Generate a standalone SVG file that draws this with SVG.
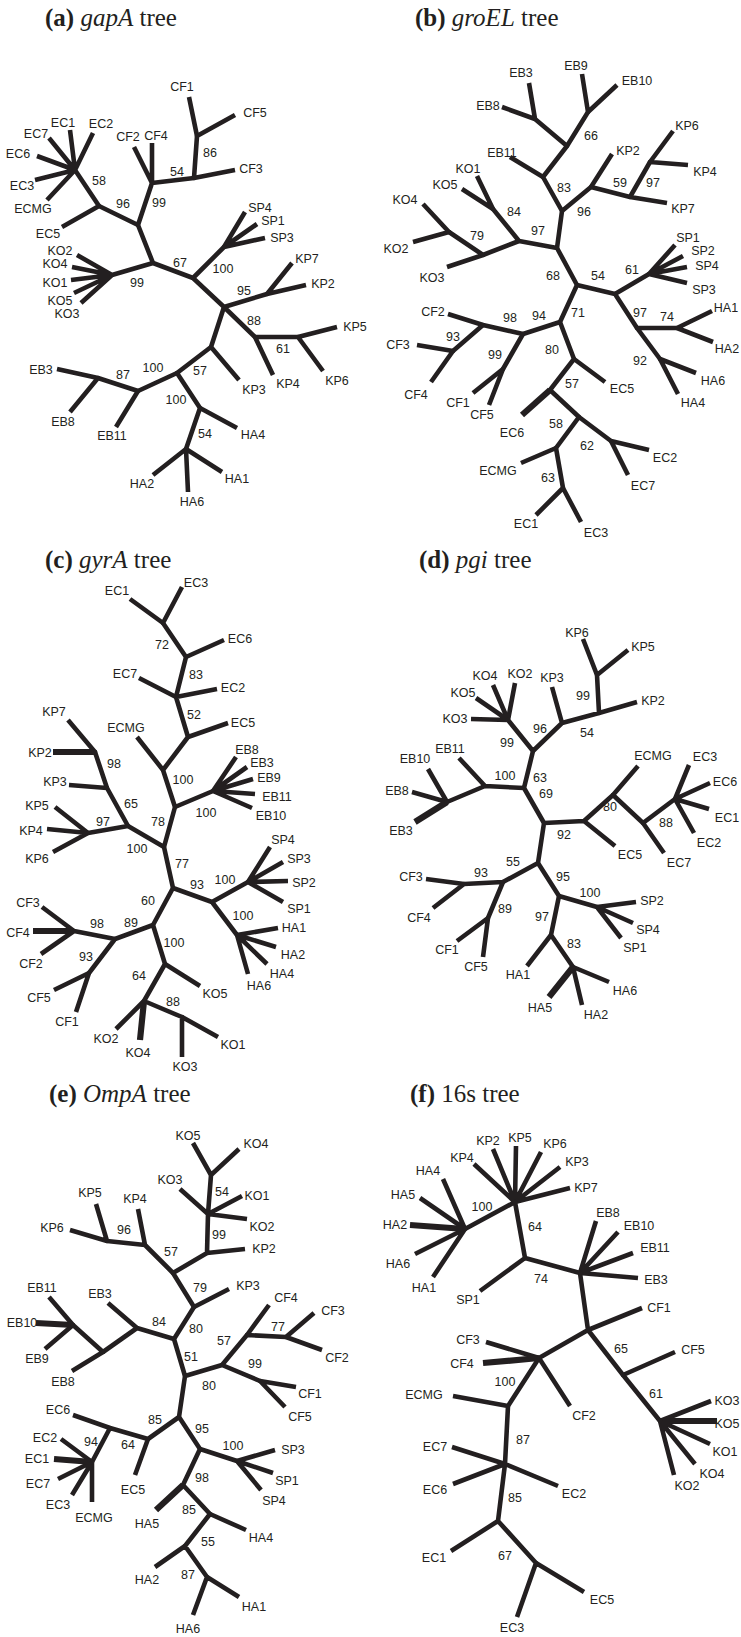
<svg xmlns="http://www.w3.org/2000/svg" width="741" height="1637" viewBox="0 0 741 1637">
<style>
.br{fill:none;stroke:#231f20;stroke-width:4.6;stroke-linejoin:round;stroke-linecap:butt}
.tk{fill:none;stroke:#231f20;stroke-width:6.2;stroke-linecap:butt}
.jn{fill:none;stroke:#231f20;stroke-width:4.6;stroke-linecap:round}
text{font-family:"Liberation Sans",Arial,sans-serif;font-size:12.5px;fill:#231f20;text-anchor:middle}
text.ttl{font-family:"Liberation Serif","Times New Roman",serif;font-size:25px;text-anchor:start}
</style>
<rect width="741" height="1637" fill="#fff"/>

<g id="tree-a">
<text class="ttl" x="45" y="26"><tspan font-weight="bold">(a)</tspan> <tspan font-style="italic">gapA</tspan> tree</text>
<g id="a-connectors">
<path class="br" d="M189 97L197 136L235 115M197 136L194 178L235 170M194 178L152 183L134 147M152 143L152 183L138 225M75 170L99 206L138 225L153 263M62 227L99 206M70 130L75 170M93 133L75 170M49 138L75 170M37 156L75 170M35 180L75 170M47 200L75 170M112 275L153 263L193 278L224 247M245 212L224 247M257 224L224 247M265 238L224 247M193 278L224 307L267 294L292 263M267 294L306 285M224 307L255 337L298 337L337 327M298 337L323 371M255 337L273 375M224 307L211 347L239 380M211 347L177 373L138 391L98 378L57 369M98 378L70 412M138 391L116 427M177 373L200 408L237 428M200 408L186 449L153 475M186 449L188 492M186 449L222 472M77 255L112 275M72 267L112 275M71 280L112 275M74 293L112 275M81 303L112 275"/>
<path class="jn" d="M197 136h0M194 178h0M152 183h0M138 225h0M75 170h0M99 206h0M153 263h0M112 275h0M193 278h0M224 247h0M224 307h0M267 294h0M255 337h0M298 337h0M211 347h0M177 373h0M138 391h0M98 378h0M200 408h0M186 449h0"/>
</g>
<g id="a-labels">
<text x="182" y="90.5">CF1</text><text x="255" y="116.5">CF5</text><text x="251" y="172.5">CF3</text>
<text x="128" y="140.5">CF2</text><text x="156" y="139.5">CF4</text>
<text x="63" y="126.5">EC1</text><text x="101" y="127.5">EC2</text><text x="36" y="137.5">EC7</text>
<text x="18" y="157.5">EC6</text><text x="22" y="189.5">EC3</text><text x="33" y="212.5">ECMG</text><text x="48" y="237.5">EC5</text>
<text x="60" y="254.5">KO2</text><text x="55" y="267.5">KO4</text><text x="55" y="286.5">KO1</text><text x="60" y="304.5">KO5</text><text x="67" y="317.5">KO3</text>
<text x="260" y="211.5">SP4</text><text x="273" y="224.5">SP1</text><text x="282" y="241.5">SP3</text>
<text x="307" y="262.5">KP7</text><text x="323" y="287.5">KP2</text><text x="355" y="330.5">KP5</text>
<text x="337" y="384.5">KP6</text><text x="288" y="387.5">KP4</text><text x="254" y="393.5">KP3</text>
<text x="41" y="373.5">EB3</text><text x="63" y="425.5">EB8</text><text x="112" y="439.5">EB11</text>
<text x="253" y="438.5">HA4</text><text x="142" y="487.5">HA2</text><text x="192" y="505.5">HA6</text><text x="237" y="482.5">HA1</text>
<text x="210" y="156.5">86</text><text x="177" y="175.5">54</text><text x="99" y="184.5">58</text><text x="123" y="207.5">96</text>
<text x="159" y="206.5">99</text><text x="180" y="266.5">67</text><text x="137" y="286.5">99</text><text x="223" y="272.5">100</text>
<text x="244" y="294.5">95</text><text x="254" y="324.5">88</text><text x="283" y="352.5">61</text><text x="200" y="374.5">57</text>
<text x="153" y="371.5">100</text><text x="123" y="378.5">87</text><text x="176" y="403.5">100</text><text x="205" y="437.5">54</text>
</g>
</g>

<g id="tree-b">
<text class="ttl" x="415" y="26"><tspan font-weight="bold">(b)</tspan> <tspan font-style="italic">groEL</tspan> tree</text>
<g id="b-connectors">
<path class="br" d="M529 83L535 119L567 146M502 107L535 119M582 74L588 112L567 146M617 85L588 112M567 146L543 177L562 211M510 157L543 177M562 211L591 187L612 154M591 187L630 197L667 203M630 197L650 162L673 131M650 162L688 165M562 211L557 248L519 241L493 209L477 176M493 209L462 189M519 241L483 255L449 232L423 204M449 232L413 242M483 255L447 267M557 248L577 285L615 294L649 274M675 245L649 274M683 256L649 274M687 267L649 274M687 283L649 274M615 294L637 328L677 328L712 311M677 328L713 342M637 328L660 359L696 373M660 359L678 394M577 285L560 322L523 334L483 325L448 314M483 325L453 351L417 345M453 351L431 382M523 334L503 369L473 393M503 369L489 405M560 322L574 359L605 382M574 359L550 390L579 417L611 441L649 450M611 441L628 475M579 417L556 448L521 463M556 448L563 488L536 515M563 488L581 522"/>
<path class="tk" d="M550 390L522 415"/>
<path class="jn" d="M535 119h0M588 112h0M567 146h0M543 177h0M562 211h0M591 187h0M630 197h0M650 162h0M557 248h0M519 241h0M493 209h0M483 255h0M449 232h0M577 285h0M615 294h0M649 274h0M637 328h0M677 328h0M660 359h0M560 322h0M523 334h0M483 325h0M453 351h0M503 369h0M574 359h0M550 390h0M579 417h0M611 441h0M556 448h0M563 488h0"/>
</g>
<g id="b-labels">
<text x="521" y="76.5">EB3</text><text x="488" y="109.5">EB8</text><text x="576" y="69.5">EB9</text><text x="637" y="84.5">EB10</text>
<text x="591" y="139.5">66</text><text x="502" y="156.5">EB11</text><text x="564" y="191.5">83</text><text x="628" y="154.5">KP2</text>
<text x="620" y="186.5">59</text><text x="584" y="215.5">96</text><text x="687" y="129.5">KP6</text><text x="705" y="175.5">KP4</text>
<text x="653" y="186.5">97</text><text x="683" y="212.5">KP7</text><text x="468" y="172.5">KO1</text><text x="445" y="188.5">KO5</text>
<text x="514" y="215.5">84</text><text x="405" y="203.5">KO4</text><text x="477" y="239.5">79</text><text x="538" y="234.5">97</text>
<text x="396" y="252.5">KO2</text><text x="432" y="281.5">KO3</text><text x="553" y="279.5">68</text><text x="598" y="279.5">54</text>
<text x="632" y="273.5">61</text><text x="688" y="241.5">SP1</text><text x="703" y="254.5">SP2</text><text x="707" y="269.5">SP4</text>
<text x="704" y="293.5">SP3</text><text x="726" y="311.5">HA1</text><text x="640" y="316.5">97</text><text x="667" y="320.5">74</text>
<text x="727" y="352.5">HA2</text><text x="640" y="364.5">92</text><text x="713" y="384.5">HA6</text><text x="693" y="406.5">HA4</text>
<text x="578" y="316.5">71</text><text x="539" y="319.5">94</text><text x="510" y="321.5">98</text><text x="433" y="315.5">CF2</text>
<text x="453" y="340.5">93</text><text x="398" y="348.5">CF3</text><text x="416" y="398.5">CF4</text><text x="495" y="358.5">99</text>
<text x="458" y="406.5">CF1</text><text x="482" y="418.5">CF5</text><text x="552" y="353.5">80</text><text x="622" y="392.5">EC5</text>
<text x="572" y="387.5">57</text><text x="512" y="436.5">EC6</text><text x="556" y="427.5">58</text><text x="587" y="449.5">62</text>
<text x="665" y="461.5">EC2</text><text x="643" y="489.5">EC7</text><text x="498" y="474.5">ECMG</text><text x="548" y="481.5">63</text>
<text x="526" y="527.5">EC1</text><text x="596" y="536.5">EC3</text>
</g>
</g>

<g id="tree-c">
<text class="ttl" x="45" y="568"><tspan font-weight="bold">(c)</tspan> <tspan font-style="italic">gyrA</tspan> tree</text>
<g id="c-connectors">
<path class="br" d="M130 599L163 623L186 657L224 640M182 587L163 623M186 657L176 697L139 678M176 697L217 689M176 697L188 737L228 723M188 737L163 770L137 737M163 770L175 807L213 791M236 757L213 791M247 767L213 791M253 779L213 791M255 794L213 791M252 808L213 791M175 807L164 847L128 826L107 788L95 752L68 720M107 788L69 785M128 826L88 833L55 807M88 833L47 829M88 833L53 852M164 847L173 888L212 902L248 882M270 847L248 882M283 862L248 882M288 881L248 882M283 902L248 882M212 902L237 935M278 928L237 935M276 947L237 935M267 964L237 935M248 974L237 935M173 888L153 925L115 939L74 931L42 907M74 931L41 954M115 939L89 973L54 990M89 973L76 1012M153 925L165 964L200 986M165 964L144 1001L116 1029M144 1001L182 1017L218 1037M182 1017L182 1057"/>
<path class="tk" d="M95 752L53 752M74 931L33 931M144 1001L140 1040"/>
<path class="jn" d="M163 623h0M186 657h0M176 697h0M188 737h0M163 770h0M175 807h0M213 791h0M164 847h0M128 826h0M107 788h0M95 752h0M88 833h0M173 888h0M212 902h0M248 882h0M237 935h0M153 925h0M115 939h0M74 931h0M89 973h0M165 964h0M144 1001h0M182 1017h0"/>
</g>
<g id="c-labels">
<text x="117" y="594.5">EC1</text><text x="196" y="586.5">EC3</text><text x="162" y="648.5">72</text><text x="240" y="642.5">EC6</text>
<text x="196" y="678.5">83</text><text x="125" y="677.5">EC7</text><text x="233" y="691.5">EC2</text><text x="194" y="718.5">52</text>
<text x="243" y="726.5">EC5</text><text x="126" y="731.5">ECMG</text><text x="183" y="783.5">100</text><text x="206" y="816.5">100</text>
<text x="247" y="753.5">EB8</text><text x="262" y="766.5">EB3</text><text x="269" y="781.5">EB9</text><text x="277" y="800.5">EB11</text>
<text x="271" y="819.5">EB10</text><text x="158" y="825.5">78</text><text x="137" y="852.5">100</text><text x="131" y="807.5">65</text>
<text x="54" y="715.5">KP7</text><text x="40" y="756.5">KP2</text><text x="114" y="767.5">98</text><text x="55" y="785.5">KP3</text>
<text x="103" y="825.5">97</text><text x="37" y="809.5">KP5</text><text x="31" y="834.5">KP4</text><text x="37" y="862.5">KP6</text>
<text x="182" y="867.5">77</text><text x="197" y="888.5">93</text><text x="225" y="883.5">100</text><text x="283" y="843.5">SP4</text>
<text x="299" y="862.5">SP3</text><text x="304" y="886.5">SP2</text><text x="299" y="912.5">SP1</text><text x="243" y="919.5">100</text>
<text x="294" y="931.5">HA1</text><text x="293" y="958.5">HA2</text><text x="282" y="977.5">HA4</text><text x="259" y="989.5">HA6</text>
<text x="148" y="904.5">60</text><text x="131" y="926.5">89</text><text x="97" y="927.5">98</text><text x="28" y="906.5">CF3</text>
<text x="18" y="936.5">CF4</text><text x="31" y="967.5">CF2</text><text x="86" y="960.5">93</text><text x="39" y="1001.5">CF5</text>
<text x="67" y="1025.5">CF1</text><text x="174" y="946.5">100</text><text x="215" y="997.5">KO5</text><text x="139" y="979.5">64</text>
<text x="106" y="1042.5">KO2</text><text x="138" y="1056.5">KO4</text><text x="173" y="1005.5">88</text><text x="233" y="1048.5">KO1</text>
<text x="185" y="1070.5">KO3</text>
</g>
</g>

<g id="tree-d">
<text class="ttl" x="419" y="568"><tspan font-weight="bold">(d)</tspan> <tspan font-style="italic">pgi</tspan> tree</text>
<g id="d-connectors">
<path class="br" d="M583 639L597 675L628 650M597 675L599 713L637 702M599 713L562 723L552 687M562 723L533 751L508 720M493 685L508 720M515 683L508 720M476 698L508 720M471 719L508 720M533 751L524 788L485 786L459 758M485 786L447 802L428 769M447 802L412 792M524 788L544 823L584 821L615 846M584 821L613 795L638 766M613 795L643 823L675 799L689 765M675 799L710 783M675 799L709 809M675 799L694 833M643 823L664 853M544 823L538 863L503 882L464 884L426 879M464 884L433 908M503 882L488 918L457 941M488 918L483 957M538 863L559 896L597 907L636 902M597 907L633 923M597 907L621 938M559 896L551 935L527 966M551 935L573 967L609 982M573 967L582 1005"/>
<path class="tk" d="M573 967L549 997M447 802L415 822"/>
<path class="jn" d="M597 675h0M599 713h0M562 723h0M533 751h0M508 720h0M524 788h0M485 786h0M447 802h0M544 823h0M584 821h0M613 795h0M643 823h0M675 799h0M538 863h0M503 882h0M464 884h0M488 918h0M559 896h0M597 907h0M551 935h0M573 967h0"/>
</g>
<g id="d-labels">
<text x="577" y="636.5">KP6</text><text x="643" y="650.5">KP5</text><text x="583" y="699.5">99</text><text x="653" y="704.5">KP2</text>
<text x="587" y="736.5">54</text><text x="552" y="681.5">KP3</text><text x="540" y="732.5">96</text><text x="507" y="746.5">99</text>
<text x="485" y="679.5">KO4</text><text x="520" y="677.5">KO2</text><text x="463" y="696.5">KO5</text><text x="455" y="722.5">KO3</text>
<text x="540" y="781.5">63</text><text x="505" y="779.5">100</text><text x="450" y="752.5">EB11</text><text x="415" y="762.5">EB10</text>
<text x="397" y="794.5">EB8</text><text x="401" y="834.5">EB3</text><text x="546" y="797.5">69</text><text x="564" y="838.5">92</text>
<text x="630" y="858.5">EC5</text><text x="610" y="810.5">80</text><text x="653" y="759.5">ECMG</text><text x="666" y="826.5">88</text>
<text x="705" y="760.5">EC3</text><text x="725" y="785.5">EC6</text><text x="727" y="821.5">EC1</text><text x="709" y="846.5">EC2</text>
<text x="679" y="866.5">EC7</text><text x="513" y="865.5">55</text><text x="481" y="876.5">93</text><text x="411" y="880.5">CF3</text>
<text x="419" y="921.5">CF4</text><text x="505" y="912.5">89</text><text x="447" y="953.5">CF1</text><text x="476" y="970.5">CF5</text>
<text x="563" y="880.5">95</text><text x="590" y="896.5">100</text><text x="652" y="904.5">SP2</text><text x="648" y="933.5">SP4</text>
<text x="635" y="951.5">SP1</text><text x="542" y="920.5">97</text><text x="518" y="978.5">HA1</text><text x="574" y="947.5">83</text>
<text x="625" y="994.5">HA6</text><text x="540" y="1011.5">HA5</text><text x="596" y="1018.5">HA2</text>
</g>
</g>

<g id="tree-e">
<text class="ttl" x="49" y="1102"><tspan font-weight="bold">(e)</tspan> <tspan font-style="italic">OmpA</tspan> tree</text>
<g id="e-connectors">
<path class="br" d="M193 1143L211 1175L239 1149M211 1175L208 1214L207 1253L245 1249M180 1189L208 1214M242 1196L208 1214M247 1219L208 1214M207 1253L173 1273L145 1245L138 1209M145 1245L107 1241L96 1204M107 1241L70 1230M173 1273L194 1307L229 1289M194 1307L174 1339L137 1328L108 1303M137 1328L103 1352L73 1325L49 1297M73 1325L45 1349M103 1352L72 1371M174 1339L185 1376L222 1365L247 1335L269 1305M247 1335L286 1337L314 1313M286 1337L322 1350M222 1365L260 1381L296 1387M260 1381L285 1407M185 1376L179 1417L148 1439L135 1475M148 1439L110 1428L73 1415M110 1428L92 1462M61 1439L92 1462M58 1479L92 1462M72 1495L92 1462M92 1502L92 1462M179 1417L200 1449L237 1461L275 1450M273 1473L237 1461M261 1490L237 1461M200 1449L183 1485L210 1514L246 1530M210 1514L185 1546L155 1567M185 1546L207 1577L239 1597M207 1577L193 1615"/>
<path class="tk" d="M73 1325L36 1323M54 1459L92 1462M183 1485L156 1510"/>
<path class="jn" d="M211 1175h0M208 1214h0M207 1253h0M173 1273h0M145 1245h0M107 1241h0M194 1307h0M174 1339h0M137 1328h0M103 1352h0M73 1325h0M185 1376h0M222 1365h0M247 1335h0M286 1337h0M260 1381h0M179 1417h0M148 1439h0M110 1428h0M92 1462h0M200 1449h0M237 1461h0M183 1485h0M210 1514h0M185 1546h0M207 1577h0"/>
</g>
<g id="e-labels">
<text x="188" y="1139.5">KO5</text><text x="256" y="1147.5">KO4</text><text x="222" y="1195.5">54</text><text x="170" y="1183.5">KO3</text>
<text x="257" y="1199.5">KO1</text><text x="262" y="1230.5">KO2</text><text x="219" y="1238.5">99</text><text x="264" y="1252.5">KP2</text>
<text x="171" y="1255.5">57</text><text x="135" y="1202.5">KP4</text><text x="124" y="1233.5">96</text><text x="90" y="1196.5">KP5</text>
<text x="52" y="1231.5">KP6</text><text x="200" y="1291.5">79</text><text x="248" y="1289.5">KP3</text><text x="196" y="1332.5">80</text>
<text x="159" y="1325.5">84</text><text x="100" y="1297.5">EB3</text><text x="42" y="1291.5">EB11</text><text x="22" y="1326.5">EB10</text>
<text x="37" y="1362.5">EB9</text><text x="63" y="1385.5">EB8</text><text x="191" y="1360.5">51</text><text x="209" y="1389.5">80</text>
<text x="224" y="1344.5">57</text><text x="286" y="1301.5">CF4</text><text x="278" y="1330.5">77</text><text x="333" y="1314.5">CF3</text>
<text x="337" y="1361.5">CF2</text><text x="255" y="1367.5">99</text><text x="310" y="1397.5">CF1</text><text x="300" y="1420.5">CF5</text>
<text x="155" y="1423.5">85</text><text x="128" y="1448.5">64</text><text x="133" y="1493.5">EC5</text><text x="58" y="1413.5">EC6</text>
<text x="91" y="1445.5">94</text><text x="45" y="1441.5">EC2</text><text x="37" y="1462.5">EC1</text><text x="38" y="1487.5">EC7</text>
<text x="58" y="1508.5">EC3</text><text x="94" y="1521.5">ECMG</text><text x="202" y="1432.5">95</text><text x="233" y="1449.5">100</text>
<text x="293" y="1453.5">SP3</text><text x="287" y="1484.5">SP1</text><text x="274" y="1504.5">SP4</text><text x="202" y="1481.5">98</text>
<text x="147" y="1527.5">HA5</text><text x="189" y="1513.5">85</text><text x="261" y="1541.5">HA4</text><text x="208" y="1545.5">55</text>
<text x="147" y="1583.5">HA2</text><text x="188" y="1578.5">87</text><text x="254" y="1610.5">HA1</text><text x="188" y="1632.5">HA6</text>
</g>
</g>

<g id="tree-f">
<text class="ttl" x="410" y="1102"><tspan font-weight="bold">(f)</tspan> 16s tree</text>
<g id="f-connectors">
<path class="br" d="M493 1149L515 1202M516 1146L515 1202M541 1152L515 1202M560 1167L515 1202M570 1188L515 1202M474 1164L515 1202M515 1202L465 1229L443 1179M420 1198L465 1229M415 1254L465 1229M433 1277L465 1229M515 1202L525 1258L480 1291M525 1258L580 1273L596 1221M618 1232L580 1273M633 1253L580 1273M638 1278L580 1273M580 1273L588 1330L642 1308M588 1330L623 1375L675 1352M623 1375L660 1421L711 1401M710 1444L660 1421M695 1464L660 1421M674 1475L660 1421M588 1330L539 1358L486 1342M539 1358L570 1406M539 1358L508 1406L453 1396M508 1406L505 1464L452 1447M505 1464L453 1484M505 1464L558 1486M505 1464L498 1521L451 1551M498 1521L536 1563L584 1592M536 1563L517 1617"/>
<path class="tk" d="M410 1225L465 1229M717 1421L660 1421M539 1358L483 1363"/>
<path class="jn" d="M515 1202h0M465 1229h0M525 1258h0M580 1273h0M588 1330h0M623 1375h0M660 1421h0M539 1358h0M508 1406h0M505 1464h0M498 1521h0M536 1563h0"/>
</g>
<g id="f-labels">
<text x="488" y="1144.5">KP2</text><text x="520" y="1141.5">KP5</text><text x="555" y="1147.5">KP6</text><text x="577" y="1165.5">KP3</text>
<text x="586" y="1191.5">KP7</text><text x="462" y="1161.5">KP4</text><text x="482" y="1210.5">100</text><text x="428" y="1174.5">HA4</text>
<text x="403" y="1198.5">HA5</text><text x="395" y="1228.5">HA2</text><text x="398" y="1267.5">HA6</text><text x="424" y="1291.5">HA1</text>
<text x="535" y="1230.5">64</text><text x="468" y="1303.5">SP1</text><text x="541" y="1282.5">74</text><text x="608" y="1216.5">EB8</text>
<text x="639" y="1229.5">EB10</text><text x="655" y="1251.5">EB11</text><text x="656" y="1283.5">EB3</text><text x="659" y="1311.5">CF1</text>
<text x="621" y="1352.5">65</text><text x="693" y="1353.5">CF5</text><text x="656" y="1397.5">61</text><text x="727" y="1404.5">KO3</text>
<text x="727" y="1427.5">KO5</text><text x="725" y="1455.5">KO1</text><text x="712" y="1477.5">KO4</text><text x="687" y="1489.5">KO2</text>
<text x="468" y="1343.5">CF3</text><text x="462" y="1367.5">CF4</text><text x="584" y="1419.5">CF2</text><text x="505" y="1385.5">100</text>
<text x="424" y="1398.5">ECMG</text><text x="523" y="1443.5">87</text><text x="435" y="1450.5">EC7</text><text x="435" y="1493.5">EC6</text>
<text x="574" y="1497.5">EC2</text><text x="515" y="1501.5">85</text><text x="434" y="1561.5">EC1</text><text x="505" y="1559.5">67</text>
<text x="602" y="1603.5">EC5</text><text x="512" y="1631.5">EC3</text>
</g>
</g>
</svg>
